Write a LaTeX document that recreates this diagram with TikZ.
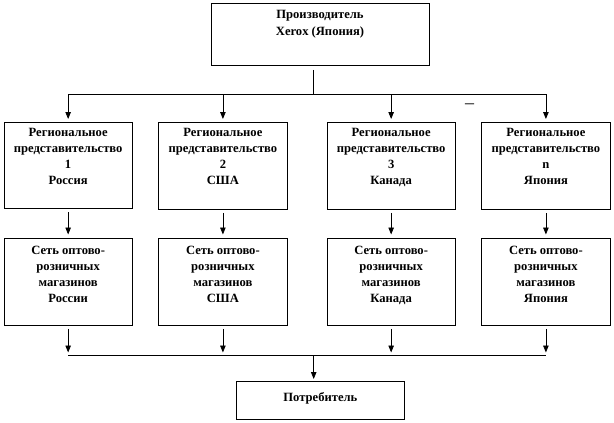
\documentclass[tikz,border=0pt]{standalone}
\usepackage{fontspec}
\setmainfont{Liberation Serif}
\usetikzlibrary{arrows.meta}
\begin{document}
\begin{tikzpicture}[x=1pt,y=-1pt,
  box/.style={draw, line width=0.8pt, inner sep=0pt, anchor=north west},
  txt/.style={font=\bfseries\fontsize{12.6}{16}\selectfont, align=center, anchor=north, inner sep=0pt},
  arr/.style={-{Triangle[length=7pt,width=5.5pt]}, line width=0.8pt},
  ln/.style={line width=0.8pt}]
\useasboundingbox (0,0) rectangle (614,423);
% boxes
\node[box, minimum width=218pt, minimum height=62pt] (top) at (211,3) {};
\node[box, minimum width=128.5pt, minimum height=86.5pt] (b1) at (3.5,121.5) {};
\node[box, minimum width=129pt, minimum height=87pt] (b2) at (158,121.5) {};
\node[box, minimum width=128.5pt, minimum height=87pt] (b3) at (326.5,121.5) {};
\node[box, minimum width=129pt, minimum height=87.5pt] (b4) at (481,121.5) {};
\node[box, minimum width=128.5pt, minimum height=87.5pt] (c1) at (3.5,237.5) {};
\node[box, minimum width=129pt, minimum height=87.5pt] (c2) at (158,237.5) {};
\node[box, minimum width=128.5pt, minimum height=87.5pt] (c3) at (326.5,237.5) {};
\node[box, minimum width=129pt, minimum height=87.5pt] (c4) at (481,237.5) {};
\node[box, minimum width=168pt, minimum height=38pt] (cons) at (236,381) {};
% texts
\node[txt, font=\bfseries\fontsize{12.6}{17.5}\selectfont] (ttop) at (320,10) {Производитель\\Xerox (Япония)};
\node[txt] (t1) at (b1.north |- 0,128.5) {Региональное\\представительство\\1\\Россия};
\node[txt] (t2) at (b2.north |- 0,128.5) {Региональное\\представительство\\2\\США};
\node[txt] (t3) at (b3.north |- 0,128.5) {Региональное\\представительство\\3\\Канада};
\node[txt] (t4) at (b4.north |- 0,128.5) {Региональное\\представительство\\n\\Япония};
\node[txt] (s1) at (c1.north |- 0,245.5) {Сеть оптово-\\розничных\\магазинов\\России};
\node[txt] (s2) at (c2.north |- 0,245.5) {Сеть оптово-\\розничных\\магазинов\\США};
\node[txt] (s3) at (c3.north |- 0,245.5) {Сеть оптово-\\розничных\\магазинов\\Канада};
\node[txt] (s4) at (c4.north |- 0,245.5) {Сеть оптово-\\розничных\\магазинов\\Япония};
\node[txt] (tc) at (cons.north |- 0,392) {Потребитель};
\node[txt, font=\fontsize{18}{18}\selectfont, anchor=base] (dash) at (469.5,108) {–};
% top connectors
\coordinate (j1) at (313.5,94.3);
\draw[ln] (top.south -| j1) ++(0,4) -- (j1);
\draw[ln] (b1.north |- j1) -- (b4.north |- j1);
\foreach \b in {b1,b2,b3,b4}
  \draw[arr, shorten >=2.5pt] (\b.north |- j1) -- (\b.north);
% middle connectors
\foreach \b/\c in {b1/c1,b2/c2,b3/c3,b4/c4}
  \draw[arr, shorten <=3.5pt, shorten >=3pt] (\b.south) -- (\c.north);
% bottom connectors
\coordinate (j2) at (313.7,355.5);
\draw[ln] (c1.south |- j2) -- (c4.south |- j2);
\foreach \c in {c1,c2,c3,c4}
  \draw[arr, shorten <=3pt, shorten >=3pt] (\c.south) -- (\c.south |- j2);
\draw[arr, shorten >=2pt] (j2) -- (cons.north -| j2);
\end{tikzpicture}
\end{document}
